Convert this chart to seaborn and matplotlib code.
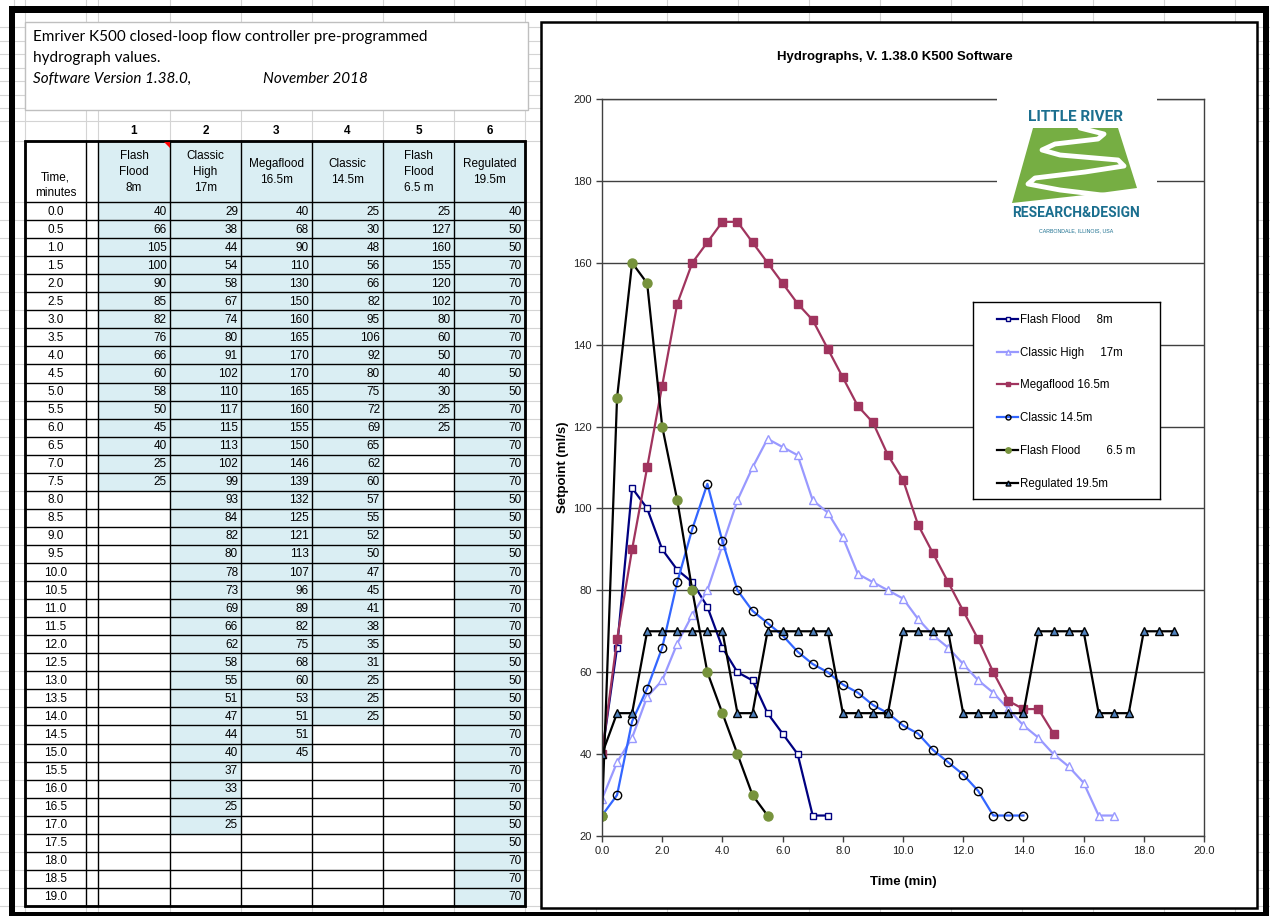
import numpy as np
import pandas as pd
import matplotlib.pyplot as plt
import seaborn as sns
from matplotlib.patches import Rectangle, Polygon

# ---- data (read from the sheet) ----
time_min = [0.0, 0.5, 1.0, 1.5, 2.0, 2.5, 3.0, 3.5, 4.0, 4.5, 5.0, 5.5, 6.0, 6.5,
            7.0, 7.5, 8.0, 8.5, 9.0, 9.5, 10.0, 10.5, 11.0, 11.5, 12.0, 12.5, 13.0,
            13.5, 14.0, 14.5, 15.0, 15.5, 16.0, 16.5, 17.0, 17.5, 18.0, 18.5, 19.0]
flash_8m = [40, 66, 105, 100, 90, 85, 82, 76, 66, 60, 58, 50, 45, 40, 25, 25]
classic_high_17m = [29, 38, 44, 54, 58, 67, 74, 80, 91, 102, 110, 117, 115, 113, 102, 99,
                    93, 84, 82, 80, 78, 73, 69, 66, 62, 58, 55, 51, 47, 44, 40, 37, 33, 25, 25]
megaflood_16m = [40, 68, 90, 110, 130, 150, 160, 165, 170, 170, 165, 160, 155, 150, 146, 139,
                 132, 125, 121, 113, 107, 96, 89, 82, 75, 68, 60, 53, 51, 51, 45]
classic_14m = [25, 30, 48, 56, 66, 82, 95, 106, 92, 80, 75, 72, 69, 65, 62, 60, 57, 55, 52,
               50, 47, 45, 41, 38, 35, 31, 25, 25, 25]
flash_6m = [25, 127, 160, 155, 120, 102, 80, 60, 50, 40, 30, 25, 25]
regulated_19m = [40, 50, 50, 70, 70, 70, 70, 70, 70, 50, 50, 70, 70, 70, 70, 70, 50, 50, 50, 50,
                 70, 70, 70, 70, 50, 50, 50, 50, 50, 70, 70, 70, 70, 50, 50, 50, 70, 70, 70]
flash_6m_chart_len = 12   # the chart range for this series stops at 5.5 min

col_heads = ["Flash\nFlood\n8m", "Classic\nHigh\n17m", "Megaflood\n16.5m",
             "Classic\n14.5m", "Flash\nFlood\n6.5 m", "Regulated\n19.5m"]
legend_labels = ["Flash Flood     8m", "Classic High     17m", "Megaflood 16.5m",
                 "Classic 14.5m", "Flash Flood        6.5 m", "Regulated 19.5m"]
table_cols = [flash_8m, classic_high_17m, megaflood_16m, classic_14m, flash_6m, regulated_19m]

plt.rcParams['font.family'] = ['Liberation Sans', 'DejaVu Sans']

W, H = 1270, 916
fig = plt.figure(figsize=(W / 100, H / 100), dpi=100)


def fbox(x0, y0, x1, y1):
    return [x0 / W, 1 - y1 / H, (x1 - x0) / W, (y1 - y0) / H]


# ---- spreadsheet background ----
bg = fig.add_axes([0, 0, 1, 1])
bg.set_xlim(0, W)
bg.set_ylim(H, 0)
bg.axis('off')

cols = [25, 86, 98, 170, 241, 312, 383, 454, 525]
hdr_top, hdr_bot = 141, 202
row_h = 18.05
tab_bot = hdr_bot + len(time_min) * row_h
row_lines = [hdr_bot + i * row_h for i in range(len(time_min) + 1)]

grid_c = '#D4D4D4'
for gx in [14] + cols + [596, 667, 738, 809, 880, 951, 1022, 1093, 1164, 1235]:
    bg.plot([gx, gx], [0, H], color=grid_c, lw=0.8, zorder=0.5)
for gy in [27, 41, 54, 68, 81, 95, 108, 121, hdr_top] + row_lines:
    bg.plot([0, W], [gy, gy], color=grid_c, lw=0.8, zorder=0.5)

# text box
bg.add_patch(Rectangle((25, 22), 503, 88, fc='white', ec='#BFBFBF', lw=1, zorder=1))
box_font = ['Lato', 'DejaVu Sans']
bg.text(33, 37, "Emriver K500 closed-loop flow controller pre-programmed", fontsize=11,
        family=box_font, va='center', zorder=2)
bg.text(33, 58, "hydrograph values.", fontsize=11, family=box_font, va='center', zorder=2)
bg.text(33, 79, "Software Version 1.38.0,", fontsize=11, family=box_font, style='italic',
        va='center', zorder=2)
bg.text(263, 79, "November 2018", fontsize=11, family=box_font, style='italic',
        va='center', zorder=2)

# table
fill = '#DAEEF3'
bg.add_patch(Rectangle((cols[0], hdr_top), cols[-1] - cols[0], tab_bot - hdr_top,
                       fc='white', ec='none', zorder=1))
for j, vals in enumerate(table_cols):
    x0, x1 = cols[j + 2], cols[j + 3]
    bg.add_patch(Rectangle((x0, hdr_top), x1 - x0, hdr_bot - hdr_top, fc=fill, ec='none', zorder=1.5))
    bg.text((x0 + x1) / 2, 131, str(j + 1), ha='center', va='center', fontsize=8.5,
            fontweight='bold', zorder=3)
    bg.text((x0 + x1) / 2, 172, col_heads[j], ha='center', va='center', fontsize=8.5,
            linespacing=1.45, zorder=3)
    for i, v in enumerate(vals):
        y0 = hdr_bot + i * row_h
        bg.add_patch(Rectangle((x0, y0), x1 - x0, row_h, fc=fill, ec='none', zorder=1.5))
        bg.text(x1 - 3, y0 + row_h / 2 + 0.5, str(v), ha='right', va='center',
                fontsize=8.5, zorder=3)
bg.text((cols[0] + cols[1]) / 2, 185, "Time,\nminutes", ha='center', va='center',
        fontsize=8.5, linespacing=1.35, zorder=3)
for i, t in enumerate(time_min):
    bg.text((cols[0] + cols[1]) / 2, hdr_bot + i * row_h + row_h / 2 + 0.5, f"{t:.1f}",
            ha='center', va='center', fontsize=8.5, zorder=3)
for y in [hdr_top] + row_lines:
    bg.plot([cols[0], cols[-1]], [y, y], color='black', lw=1.0, zorder=2)
for x in cols:
    bg.plot([x, x], [hdr_top, tab_bot], color='black', lw=1.0, zorder=2)
bg.add_patch(Rectangle((cols[0], hdr_top), cols[-1] - cols[0], tab_bot - hdr_top,
                       fc='none', ec='black', lw=2, zorder=2.5))
bg.add_patch(Polygon([(164, hdr_top + 1), (170, hdr_top + 1), (170, hdr_top + 7)],
                     closed=True, fc='red', ec='none', zorder=3))

# chart box + outer frame
bg.add_patch(Rectangle((541, 22), 716, 886, fc='white', ec='black', lw=1.8, zorder=1))
for r in [(9, 6, 1260, 7), (9, 6, 6, 910), (1263, 6, 6, 910), (9, 912, 1260, 4)]:
    bg.add_patch(Rectangle(r[:2], r[2], r[3], fc='black', ec='none', zorder=4))
bg.text(895, 57, "Hydrographs, V. 1.38.0 K500 Software", ha='center', va='center',
        fontsize=9.5, fontweight='bold', zorder=3)

# ---- chart ----
ax = fig.add_axes(fbox(602, 99, 1204, 836))
styles = [
    (flash_8m, dict(color='#000080', marker='s', markerfacecolor='white',
                    markeredgecolor='#000080', markersize=5)),
    (classic_high_17m, dict(color='#9999FF', marker='^', markerfacecolor='white',
                            markeredgecolor='#9999FF', markersize=6)),
    (megaflood_16m, dict(color='#A0345E', marker='s', markerfacecolor='#A0345E',
                         markeredgecolor='#A0345E', markersize=5.5)),
    (classic_14m, dict(color='#3366FF', marker='o', markerfacecolor='none',
                       markeredgecolor='black', markersize=6)),
    (flash_6m[:flash_6m_chart_len], dict(color='black', marker='o', markerfacecolor='#77933C',
                                         markeredgecolor='#77933C', markersize=6.5)),
    (regulated_19m, dict(color='black', marker='^', markerfacecolor='#4F81BD',
                         markeredgecolor='black', markersize=6)),
]
for (vals, st), lab in zip(styles, legend_labels):
    df = pd.DataFrame({'time': time_min[:len(vals)], 'flow': vals})
    sns.lineplot(data=df, x='time', y='flow', ax=ax, label=lab, lw=1.6,
                 markeredgewidth=1, errorbar=None, **st)

handles, labels = ax.get_legend_handles_labels()
ax.get_legend().remove()

ax.set_xlim(0, 20)
ax.set_ylim(20, 200)
ax.set_xticks(np.arange(0, 21, 2))
ax.set_xticklabels([f"{v:.1f}" for v in np.arange(0, 21, 2)])
ax.set_yticks(np.arange(20, 201, 20))
ax.tick_params(direction='out', length=4, width=1, colors='#404040', labelsize=8,
               labelcolor='#222222')
ax.yaxis.grid(True, color='#404040', lw=1)
ax.xaxis.grid(False)
ax.set_axisbelow(True)
for s in ax.spines.values():
    s.set_color('#404040')
    s.set_linewidth(1)
ax.set_xlabel("Time (min)", fontsize=9.5, fontweight='bold', labelpad=14)
ax.set_ylabel("Setpoint (ml/s)", fontsize=9.5, fontweight='bold', labelpad=3)

# ---- legend box ----
lax = fig.add_axes(fbox(973, 302, 1160, 499))
lax.set_xticks([])
lax.set_yticks([])
for s in lax.spines.values():
    s.set_color('black')
    s.set_linewidth(1)
lax.legend(handles, labels, loc='upper left', bbox_to_anchor=(0.13, 0.94), frameon=False,
           fontsize=8.3, labelspacing=1.8, handlelength=1.8, handletextpad=0.15,
           markerscale=0.6, borderpad=0, borderaxespad=0)

# ---- logo ----
lg = fig.add_axes(fbox(997, 96, 1157, 240))
lg.set_xlim(997, 1157)
lg.set_ylim(240, 96)
lg.axis('off')
lg.add_patch(Rectangle((997, 96), 160, 144, fc='white', ec='none'))
teal = '#1B6F8F'
logo_font = ['Liberation Sans Narrow', 'Roboto', 'DejaVu Sans']
lg.text(1076, 117, "LITTLE RIVER", ha='center', va='center', color=teal, fontsize=11,
        fontweight='bold', family=logo_font)
lg.add_patch(Polygon([(1033, 128), (1118, 128), (1137, 188), (1085, 195), (1012, 203)],
                     closed=True, fc='#76AE43', ec='none'))
river = [(1080, 128), (1104, 134), (1098, 139), (1055, 144), (1042, 150), (1060, 155),
         (1118, 160), (1124, 166), (1085, 172), (1035, 178), (1028, 184), (1060, 190),
         (1110, 196)]
lg.plot([p[0] for p in river], [p[1] for p in river], color='white', lw=3.5,
        solid_joinstyle='round', solid_capstyle='round')
lg.text(1076, 213, "RESEARCH&DESIGN", ha='center', va='center', color=teal, fontsize=10,
        fontweight='bold', family=logo_font)
lg.text(1076, 231, "CARBONDALE, ILLINOIS, USA", ha='center', va='center', color=teal,
        fontsize=3.8)

fig.savefig('out.png', dpi=100)
